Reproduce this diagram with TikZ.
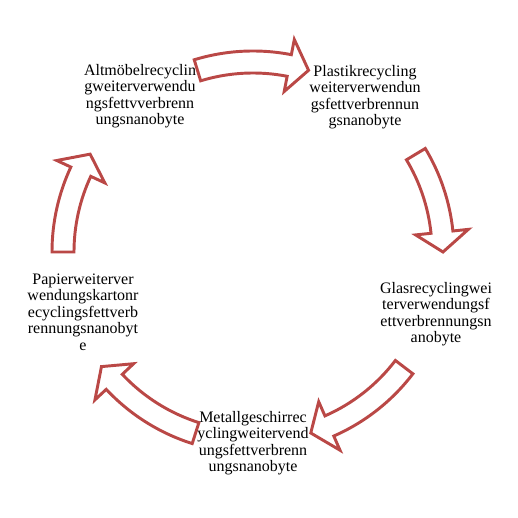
\documentclass[tikz,border=0pt]{standalone}
\usepackage{fontspec}
\setmainfont{Liberation Serif}
\definecolor{arrowred}{RGB}{186,72,70}
\usetikzlibrary{positioning}

\begin{document}
\begin{tikzpicture}[x=0.75pt,y=0.75pt,
    cycletext/.style={align=center,font=\fontsize{12}{12.4}\selectfont,inner sep=0pt},
    cyclearrow/.style={draw=arrowred,fill=white,line width=2.2pt,line join=miter}]
    \useasboundingbox (0,0) rectangle (518,518);
    \coordinate (C) at (253,266);

    % Block arrows round the cycle
    \begin{scope}[shift={(C)}]
    \foreach \ta/\tp in {107/73, 31/0, -37.3/-72.3, -107.6/-142.9, 180/149} {
        \pgfmathsetmacro{\hb}{\tp+6}
        \draw[cyclearrow] (\ta:201) arc[start angle=\ta,end angle=\hb,radius=201]
            -- (\hb:216.5) -- (\tp:190) -- (\hb:163.5) -- (\hb:179)
            arc[start angle=\hb,end angle=\ta,radius=179] -- cycle;
    }
    \end{scope}

    % Texts
    \node[cycletext] (altmoebel) at (140,422) {Altmöbelrecyclin\\gweiterverwendu\\ngsfettvverbrenn\\ungsnanobyte};
    \node[cycletext] (plastik) at (365,421) {Plastikrecycling\\weiterverwendun\\gsfettverbrennun\\gsnanobyte};
    \node[cycletext] (glas) at (436,204) {Glasrecyclingwei\\terverwendungsf\\ettverbrennungsn\\anobyte};
    \node[cycletext] (metall) at (253,75) {Metallgeschirrec\\yclingweitervend\\ungsfettverbrenn\\ungsnanobyte};
    \node[cycletext] (papier) at (83,206) {Papierweiterver\\wendungskartonr\\ecyclingsfettverb\\rennungsnanobyt\\e};
\end{tikzpicture}
\end{document}
